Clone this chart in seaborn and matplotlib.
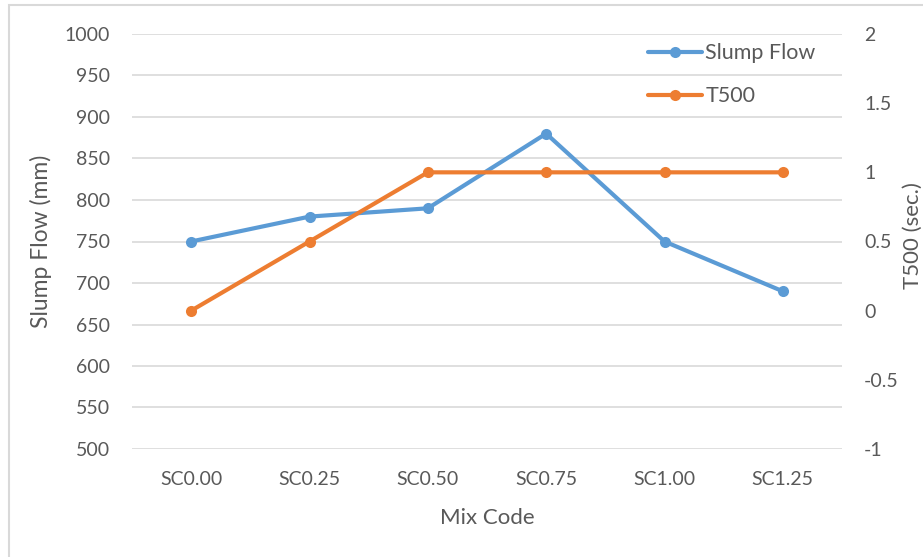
import matplotlib
matplotlib.use("Agg")
import matplotlib.pyplot as plt
import seaborn as sns
import pandas as pd
from matplotlib.patches import Rectangle

mix_codes = ["SC0.00", "SC0.25", "SC0.50", "SC0.75", "SC1.00", "SC1.25"]
slump_flow = [750, 780, 790, 880, 750, 690]
t500 = [0, 0.5, 1, 1, 1, 1]

left_ticks = list(range(500, 1001, 50))
right_ticks = [-1, -0.5, 0, 0.5, 1, 1.5, 2]
right_labels = ["-1", "-0.5", "0", "0.5", "1", "1.5", "2"]

df = pd.DataFrame({"Mix Code": mix_codes, "Slump Flow": slump_flow, "T500": t500})

sns.set_theme(style="white")
plt.rcParams["font.family"] = ["Lato", "DejaVu Sans"]

BLUE = "#5b9bd5"
ORANGE = "#ed7d31"
GRID = "#d9d9d9"
TXT = "#595959"

fig = plt.figure(figsize=(9.23, 5.57), dpi=100)
ax = fig.add_axes([132 / 923, 1 - 449 / 557, 710 / 923, 415 / 557])
ax2 = ax.twinx()

# outer chart border
fig.patches.append(Rectangle((9 / 923, -0.2), 1.2, 1.2 - 5 / 557,
                             transform=fig.transFigure, fill=False,
                             edgecolor=GRID, linewidth=1.5, zorder=0))

sns.lineplot(data=df, x="Mix Code", y="Slump Flow", ax=ax, color=BLUE,
             marker="o", markersize=8, markeredgewidth=0, linewidth=3,
             sort=False, label="Slump Flow", legend=False)
sns.lineplot(data=df, x="Mix Code", y="T500", ax=ax2, color=ORANGE,
             marker="o", markersize=8, markeredgewidth=0, linewidth=3,
             sort=False, label="T500", legend=False)

ax.set_xlim(-0.5, 5.5)
ax.set_ylim(500, 1000)
ax2.set_ylim(-1, 2)
ax.set_yticks(left_ticks)
ax2.set_yticks(right_ticks)
ax2.set_yticklabels(right_labels)

ax.yaxis.grid(True, color=GRID, linewidth=1.2)
ax.set_axisbelow(True)
for a in (ax, ax2):
    for s in a.spines.values():
        s.set_visible(False)
    a.tick_params(length=0, labelsize=14, colors=TXT)
ax.tick_params(axis="y", pad=16)
ax2.tick_params(axis="y", pad=16)
ax.tick_params(axis="x", pad=16)

ax.set_xlabel("Mix Code", fontsize=16, color=TXT, labelpad=14)
ax.set_ylabel("Slump Flow (mm)", fontsize=16.5, color=TXT, labelpad=9)
ax2.set_ylabel("")
fig.text(913 / 923, 1 - 236 / 557, "T500 (sec.)", rotation=90, fontsize=16,
         color=TXT, ha="center", va="center")

h1, l1 = ax.get_legend_handles_labels()
h2, l2 = ax2.get_legend_handles_labels()
leg = ax2.legend(h1 + h2, l1 + l2, loc="upper right",
                 bbox_to_anchor=(0.975, 0.998), frameon=False,
                 handlelength=2.5, handletextpad=0.18, labelspacing=1.05,
                 fontsize=15.5, borderaxespad=0.0)
for t in leg.get_texts():
    t.set_color(TXT)

fig.savefig("out.png", dpi=100)
